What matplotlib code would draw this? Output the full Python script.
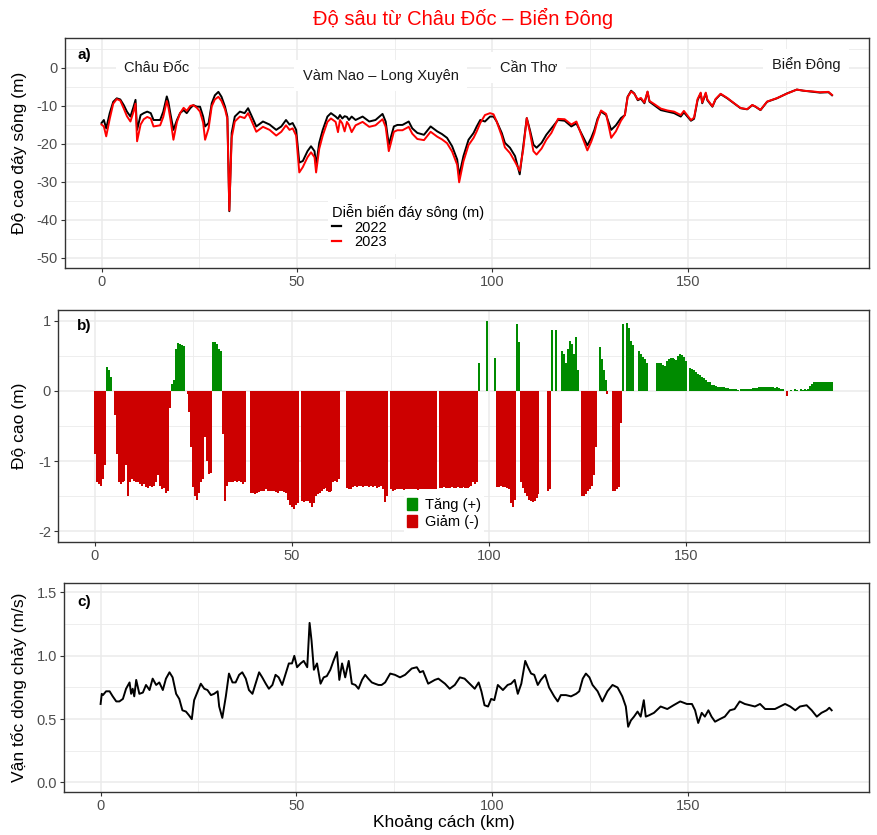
import matplotlib
matplotlib.use("Agg")
import matplotlib.pyplot as plt
from matplotlib.patches import Patch
from matplotlib.lines import Line2D
from matplotlib.ticker import MultipleLocator, FormatStrFormatter

plt.rcParams['font.family'] = ['Liberation Sans', 'DejaVu Sans']
plt.rcParams['axes.unicode_minus'] = False

# ---- panel a: river bed elevation (m) ----
km_a = [0.0, 0.6, 1.2, 2.1, 3.0, 3.9, 4.8, 5.7, 6.5, 7.4, 8.2, 8.7, 9.1, 10.0, 10.8,
        11.7, 12.6, 13.3, 15.0, 15.8, 16.7, 17.1, 17.6, 18.4, 19.3, 20.1, 21.0, 21.8,
        22.7, 23.5, 24.4, 25.2, 26.0, 26.5, 27.4, 28.2, 29.0, 29.9, 30.7, 31.6, 32.2,
        32.7, 33.3, 34.1, 35.4, 36.6, 37.5, 38.3, 39.6, 41.3, 43.0, 44.7, 46.0, 47.2,
        48.1, 48.9, 49.8, 50.6, 51.5, 52.7, 53.6, 54.5, 54.9, 55.7, 56.6, 57.8, 58.7,
        59.9, 60.5, 61.0, 61.6, 62.2, 62.8, 63.3, 64.0, 65.0, 66.8, 68.5, 70.1, 71.9,
        72.7, 73.5, 74.8, 75.7, 77.0, 78.6, 79.5, 80.8, 82.5, 84.2, 85.9, 87.1, 88.4,
        89.7, 91.0, 91.5, 92.6, 93.9, 95.2, 96.0, 96.9, 98.1, 99.4, 100.3, 101.1, 102.4,
        103.2, 104.5, 105.8, 107.0, 107.9, 108.8, 109.6, 110.5, 111.3, 112.6, 113.8,
        115.1, 116.8, 118.5, 120.2, 121.5, 122.7, 124.3, 125.3, 126.1, 126.9, 127.8,
        129.1, 130.4, 131.6, 132.9, 133.9, 134.6, 135.5, 136.3, 137.2, 138.0, 138.9,
        139.7, 140.2, 141.4, 143.1, 144.8, 146.5, 148.2, 149.0, 149.9, 150.8, 151.6,
        152.5, 153.3, 153.7, 154.6, 155.0, 156.3, 157.1, 158.4, 160.1, 161.8, 163.5,
        165.2, 166.5, 167.3, 168.6, 170.3, 172.8, 175.4, 177.9, 179.6, 182.1, 183.8,
        186.0, 186.9]
bed_2022 = [-14.6, -13.8, -16.0, -12.0, -9.0, -8.1, -8.4, -9.9, -11.6, -12.9, -10.3, -8.5,
            -16.4, -12.5, -12.0, -11.6, -12.0, -13.8, -13.8, -11.6, -7.6, -9.0, -12.0,
            -16.4, -13.8, -12.0, -11.2, -12.0, -10.7, -9.9, -10.3, -10.3, -12.9, -15.5,
            -14.6, -9.4, -7.3, -6.4, -7.7, -10.3, -12.9, -37.8, -17.2, -12.9, -11.6,
            -12.0, -10.7, -12.5, -15.5, -14.2, -15.0, -16.4, -15.5, -13.8, -15.0, -14.6,
            -16.4, -25.0, -24.6, -22.0, -20.7, -22.0, -25.9, -19.8, -16.4, -12.9, -12.0,
            -12.9, -13.5, -12.5, -13.4, -12.8, -13.0, -13.8, -12.9, -13.8, -12.9, -14.2,
            -13.8, -12.2, -14.2, -20.3, -15.5, -15.1, -15.1, -14.2, -16.0, -17.2, -17.7,
            -15.5, -16.8, -17.5, -18.5, -20.7, -24.2, -28.5, -23.3, -19.0, -17.2, -15.5,
            -13.8, -14.2, -12.9, -12.9, -14.2, -17.2, -19.8, -21.1, -23.3, -28.1, -20.7,
            -13.3, -16.4, -20.3, -21.1, -19.8, -17.7, -16.0, -13.8, -14.0, -15.5, -14.7,
            -17.2, -20.5, -18.5, -16.4, -13.5, -11.6, -12.5, -16.4, -15.2, -13.3, -12.5,
            -7.7, -6.1, -6.8, -8.6, -8.2, -9.4, -6.4, -9.0, -9.9, -11.2, -11.6, -12.0,
            -12.9, -11.8, -12.9, -14.0, -13.5, -8.6, -6.8, -9.4, -6.8, -8.6, -10.3, -8.4,
            -7.0, -8.1, -9.4, -10.7, -11.0, -9.9, -10.3, -11.2, -9.0, -8.1, -6.8, -5.8,
            -6.1, -6.4, -6.6, -6.5, -7.3]
bed_2023 = [-15.0, -15.5, -18.1, -13.5, -9.5, -8.3, -8.7, -10.8, -12.8, -14.2, -11.6, -9.5,
            -19.4, -15.0, -13.6, -13.0, -13.4, -15.5, -15.2, -13.0, -8.8, -10.4, -13.4,
            -19.0, -14.3, -12.0, -10.6, -11.4, -10.1, -9.9, -10.6, -11.6, -14.5, -19.0,
            -16.0, -10.2, -8.4, -7.7, -8.8, -11.0, -13.5, -37.6, -18.5, -14.2, -12.9,
            -13.3, -12.0, -13.8, -16.9, -15.6, -16.4, -17.9, -16.9, -15.2, -16.4, -16.0,
            -17.9, -27.6, -26.2, -23.6, -22.3, -23.6, -27.6, -21.4, -17.9, -14.3, -13.4,
            -14.3, -17.0, -13.8, -14.7, -16.8, -14.3, -15.1, -17.0, -15.2, -14.3, -15.6,
            -15.2, -13.6, -15.6, -22.0, -16.9, -16.5, -16.5, -15.6, -17.4, -18.8, -19.1,
            -16.9, -18.2, -18.9, -19.9, -22.1, -25.6, -30.2, -24.7, -20.4, -18.5, -16.8,
            -14.6, -12.5, -12.0, -12.3, -14.2, -18.0, -21.0, -22.5, -24.8, -27.2, -21.5,
            -13.3, -17.0, -22.0, -22.9, -21.3, -19.0, -17.2, -13.5, -13.6, -15.0, -14.2,
            -17.5, -21.8, -19.5, -17.2, -14.0, -11.3, -12.2, -18.5, -16.8, -14.0, -12.5,
            -7.8, -6.3, -6.9, -8.4, -8.0, -9.2, -6.3, -8.8, -9.6, -10.8, -11.3, -11.6,
            -12.5, -11.4, -12.6, -13.8, -13.2, -8.3, -6.6, -9.2, -6.6, -8.4, -10.2, -8.3,
            -6.9, -8.0, -9.35, -10.65, -10.95, -9.85, -10.25, -11.15, -8.95, -8.05, -6.85,
            -5.8, -6.1, -6.3, -6.5, -6.4, -7.2]

place_names = ['Châu Đốc', 'Vàm Nao – Long Xuyên', 'Cần Thơ', 'Biển Đông']
place_km = [14.2, 71.4, 109.3, 180.2]
place_depth = [0.0, -2.1, 0.0, 0.7]

# ---- panel b: bed change 2023 - 2022 (m), every 0.5 km ----
diff_km = [
    0, 0.5, 1, 1.5, 2, 2.5, 3, 3.5, 4, 4.5, 5, 5.5, 6, 6.5, 7, 7.5, 8, 8.5, 9, 9.5,
    10, 10.5, 11, 11.5, 12, 12.5, 13, 13.5, 14, 14.5, 15, 15.5, 16, 16.5, 17, 17.5, 18, 18.5, 19, 19.5,
    20, 20.5, 21, 21.5, 22, 22.5, 23, 23.5, 24, 24.5, 25, 25.5, 26, 26.5, 27, 27.5, 28, 28.5, 29, 29.5,
    30, 30.5, 31, 31.5, 32, 32.5, 33, 33.5, 34, 34.5, 35, 35.5, 36, 36.5, 37, 37.5, 38, 38.5, 39, 39.5,
    40, 40.5, 41, 41.5, 42, 42.5, 43, 43.5, 44, 44.5, 45, 45.5, 46, 46.5, 47, 47.5, 48, 48.5, 49, 49.5,
    50, 50.5, 51, 51.5, 52, 52.5, 53, 53.5, 54, 54.5, 55, 55.5, 56, 56.5, 57, 57.5, 58, 58.5, 59, 59.5,
    60, 60.5, 61, 61.5, 62, 62.5, 63, 63.5, 64, 64.5, 65, 65.5, 66, 66.5, 67, 67.5, 68, 68.5, 69, 69.5,
    70, 70.5, 71, 71.5, 72, 72.5, 73, 73.5, 74, 74.5, 75, 75.5, 76, 76.5, 77, 77.5, 78, 78.5, 79, 79.5,
    80, 80.5, 81, 81.5, 82, 82.5, 83, 83.5, 84, 84.5, 85, 85.5, 86, 86.5, 87, 87.5, 88, 88.5, 89, 89.5,
    90, 90.5, 91, 91.5, 92, 92.5, 93, 93.5, 94, 94.5, 95, 95.5, 96, 96.5, 97, 97.5, 98, 98.5, 99, 99.5,
    100, 100.5, 101, 101.5, 102, 102.5, 103, 103.5, 104, 104.5, 105, 105.5, 106, 106.5, 107, 107.5, 108, 108.5, 109, 109.5,
    110, 110.5, 111, 111.5, 112, 112.5, 113, 113.5, 114, 114.5, 115, 115.5, 116, 116.5, 117, 117.5, 118, 118.5, 119, 119.5,
    120, 120.5, 121, 121.5, 122, 122.5, 123, 123.5, 124, 124.5, 125, 125.5, 126, 126.5, 127, 127.5, 128, 128.5, 129, 129.5,
    130, 130.5, 131, 131.5, 132, 132.5, 133, 133.5, 134, 134.5, 135, 135.5, 136, 136.5, 137, 137.5, 138, 138.5, 139, 139.5,
    140, 140.5, 141, 141.5, 142, 142.5, 143, 143.5, 144, 144.5, 145, 145.5, 146, 146.5, 147, 147.5, 148, 148.5, 149, 149.5,
    150, 150.5, 151, 151.5, 152, 152.5, 153, 153.5, 154, 154.5, 155, 155.5, 156, 156.5, 157, 157.5, 158, 158.5, 159, 159.5,
    160, 160.5, 161, 161.5, 162, 162.5, 163, 163.5, 164, 164.5, 165, 165.5, 166, 166.5, 167, 167.5, 168, 168.5, 169, 169.5,
    170, 170.5, 171, 171.5, 172, 172.5, 173, 173.5, 174, 174.5, 175, 175.5, 176, 176.5, 177, 177.5, 178, 178.5, 179, 179.5,
    180, 180.5, 181, 181.5, 182, 182.5, 183, 183.5, 184, 184.5, 185, 185.5, 186, 186.5, 187]
diff_m = [
    -0.90, -1.30, -1.33, -1.35, -1.25, -1.05, 0.34, 0.30, 0.20, 0,
    -0.35, -0.90, -1.30, -1.32, -1.30, -1.28, -1.05, -1.50, -1.30, -1.25,
    -1.28, -1.30, -1.30, -1.32, -1.35, -1.33, -1.37, -1.38, -1.36, -1.37,
    -1.35, -1.30, -1.20, -1.35, -1.40, -1.38, -1.45, -1.42, -0.25, 0.10,
    0.15, 0.60, 0.68, 0.67, 0.65, 0.64, 0, -0.05, -0.30, -0.80,
    -1.37, -1.50, -1.55, -1.45, -1.30, -1.25, -0.65, -1.00, -1.18, -1.17,
    0.70, 0.70, 0.66, 0.60, 0.57, -0.62, -1.57, -1.35, -1.30, -1.30,
    -1.30, -1.28, -1.30, -1.28, -1.30, -1.32, -1.30, 0, 0, -1.45,
    -1.45, -1.47, -1.45, -1.44, -1.42, -1.43, -1.42, -1.40, -1.43, -1.42,
    -1.42, -1.43, -1.44, -1.45, -1.43, -1.42, -1.44, -1.45, -1.55, -1.62,
    -1.65, -1.68, -1.63, -1.60, 0, -1.57, -1.58, -1.56, -1.57, -1.60,
    -1.65, -1.60, -1.50, -1.47, -1.45, -1.42, -1.40, -1.38, -1.42, -1.44,
    -1.42, -1.30, -1.28, -1.30, -1.25, 0, 0, 0, -1.38, -1.40,
    -1.40, -1.37, -1.36, -1.37, -1.35, -1.36, -1.37, -1.35, -1.36, -1.37,
    -1.36, -1.37, -1.36, -1.38, -1.37, -1.36, -1.40, -1.58, -1.50, 0,
    -1.40, -1.42, -1.41, -1.40, -1.40, -1.39, -1.40, -1.41, -1.40, -1.40,
    -1.40, -1.39, -1.40, -1.40, -1.41, -1.40, -1.39, -1.40, -1.40, -1.40,
    -1.40, -1.39, -1.40, -1.39, 0, -1.38, -1.38, -1.37, -1.38, -1.38,
    -1.38, -1.37, -1.38, -1.38, -1.37, -1.38, -1.38, -1.37, -1.38, -1.38,
    -1.37, -1.36, -1.30, -1.33, -1.30, 0.40, 0, 0, 0, 1.00,
    0, 0, 0, 0.47, -1.37, -1.37, -1.36, -1.37, -1.37, -1.38,
    -1.40, -1.60, -1.65, -1.55, 0.95, 0.70, -1.30, -1.38, -1.45, -1.50,
    -1.55, -1.57, -1.58, -1.57, -1.53, -1.47, 0, 0, 0, 0,
    -1.42, -1.40, 0.87, 0, 0.87, 0, 0, 0.57, 0.52, 0.40,
    0.60, 0.71, 0.66, 0.52, 0.76, 0.30, 0, -1.50, -1.50, -1.47,
    -1.43, -1.40, -1.35, -1.20, -0.80, 0, 0.62, 0.45, 0.30, 0.15,
    -0.05, 0, 0, -1.42, -1.42, -1.40, -1.37, -0.45, 0.95, 0,
    0.97, 0.90, 0.71, 0.65, 0, 0, 0.57, 0.52, 0.48, 0.45,
    0.40, 0, 0, 0, 0, 0.40, 0.40, 0.39, 0.37, 0.36,
    0.42, 0.46, 0.47, 0.47, 0.46, 0.44, 0.50, 0.52, 0.51, 0.48,
    0.42, 0, 0.33, 0.31, 0.29, 0.27, 0.24, 0.22, 0.20, 0.18,
    0.16, 0.13, 0.12, 0.08, 0.08, 0.07, 0.06, 0.06, 0.05, 0.05,
    0.04, 0.04, 0.03, 0.03, 0.03, 0.02, 0.01, 0, 0.02, 0.02,
    0.02, 0.03, 0.03, 0.03, 0.04, 0.04, 0.04, 0.05, 0.05, 0.05,
    0.05, 0.05, 0.05, 0.05, 0.05, 0.04, 0.05, 0.04, 0.03, 0.02,
    0, -0.08, 0, 0.01, 0, 0.02, 0.01, 0, 0.02, 0.01,
    0.02, 0.01, 0.02, 0.07, 0.10, 0.12, 0.12, 0.13, 0.13, 0.12,
    0.12, 0.13, 0.12, 0.12, 0.12]

# ---- panel c: flow velocity (m/s) ----
km_c = [0.0, 0.3, 0.6, 1.4, 2.3, 3.1, 4.0, 4.8, 5.7, 6.5, 7.4, 7.8, 8.2, 8.6, 9.1, 9.9,
        10.8, 11.6, 12.5, 13.3, 14.2, 15.0, 15.9, 16.7, 17.6, 18.4, 19.3, 20.1, 20.9,
        21.8, 22.6, 23.3, 23.9, 24.8, 25.6, 26.5, 27.3, 28.2, 29.0, 29.9, 30.3, 31.1,
        32.0, 32.8, 33.7, 34.5, 35.4, 36.2, 37.1, 37.9, 38.8, 39.6, 40.5, 41.3, 42.2,
        43.0, 43.9, 44.7, 45.5, 46.4, 47.2, 48.1, 48.9, 49.5, 50.2, 51.1, 51.9, 52.8,
        53.4, 53.9, 54.5, 55.3, 56.2, 57.0, 57.8, 58.7, 59.5, 60.4, 61.0, 61.7, 62.5,
        63.4, 64.2, 65.1, 65.9, 66.8, 67.6, 68.4, 69.3, 70.1, 71.0, 71.8, 72.7, 74.0,
        75.2, 76.5, 77.8, 79.5, 80.8, 81.6, 82.4, 83.7, 85.4, 86.3, 88.0, 89.2, 90.5,
        91.8, 93.0, 94.3, 95.6, 96.6, 97.3, 98.1, 99.0, 99.8, 100.6, 101.5, 102.8,
        104.0, 104.9, 105.8, 106.6, 107.5, 108.5, 109.2, 110.0, 110.8, 111.7, 112.5,
        113.6, 114.6, 115.9, 116.8, 117.6, 118.9, 120.2, 121.5, 122.3, 123.2, 124.0,
        124.9, 125.7, 127.0, 128.2, 129.5, 130.8, 132.1, 133.3, 134.2, 134.8, 135.5,
        136.3, 137.2, 138.0, 138.8, 139.3, 140.1, 141.4, 143.1, 144.8, 146.4, 148.1,
        149.8, 151.1, 151.9, 152.7, 153.6, 154.4, 155.3, 156.1, 157.0, 158.2, 159.5,
        160.8, 162.0, 163.3, 164.6, 165.9, 167.2, 168.5, 169.8, 171.1, 172.3, 173.6,
        174.9, 176.2, 177.5, 178.7, 180.4, 181.7, 183.0, 184.2, 185.5, 186.2, 186.8]
velocity = [0.62, 0.70, 0.69, 0.72, 0.72, 0.68, 0.64, 0.64, 0.66, 0.74, 0.79, 0.70, 0.74,
            0.68, 0.81, 0.70, 0.71, 0.77, 0.73, 0.82, 0.77, 0.79, 0.73, 0.82, 0.87, 0.83,
            0.70, 0.66, 0.57, 0.56, 0.53, 0.50, 0.65, 0.72, 0.78, 0.74, 0.73, 0.69, 0.70,
            0.72, 0.60, 0.51, 0.68, 0.86, 0.79, 0.79, 0.85, 0.87, 0.82, 0.73, 0.70, 0.78,
            0.87, 0.83, 0.78, 0.74, 0.77, 0.85, 0.83, 0.77, 0.85, 0.94, 0.94, 1.00, 0.91,
            0.94, 0.96, 0.91, 1.26, 1.12, 0.89, 0.94, 0.78, 0.83, 0.84, 0.89, 0.96, 1.03,
            0.81, 0.94, 0.83, 0.96, 0.78, 0.77, 0.74, 0.81, 0.85, 0.82, 0.79, 0.78, 0.77,
            0.77, 0.79, 0.86, 0.85, 0.83, 0.85, 0.90, 0.91, 0.87, 0.88, 0.78, 0.81, 0.82,
            0.78, 0.74, 0.77, 0.83, 0.82, 0.78, 0.74, 0.79, 0.72, 0.61, 0.60, 0.66, 0.65,
            0.77, 0.73, 0.77, 0.78, 0.81, 0.70, 0.78, 0.96, 0.91, 0.86, 0.85, 0.77, 0.81,
            0.85, 0.75, 0.68, 0.64, 0.69, 0.69, 0.68, 0.70, 0.72, 0.82, 0.86, 0.83, 0.77,
            0.72, 0.64, 0.72, 0.77, 0.75, 0.68, 0.60, 0.44, 0.49, 0.52, 0.56, 0.52, 0.65,
            0.52, 0.53, 0.55, 0.60, 0.58, 0.61, 0.64, 0.62, 0.62, 0.57, 0.47, 0.55, 0.52,
            0.57, 0.52, 0.48, 0.50, 0.52, 0.57, 0.58, 0.64, 0.62, 0.61, 0.60, 0.62, 0.58,
            0.58, 0.58, 0.60, 0.62, 0.60, 0.57, 0.60, 0.61, 0.57, 0.52, 0.55, 0.57, 0.59,
            0.57]

GREEN = '#008B00'
RED = '#CD0000'
GRID = '#EBEBEB'
FRAME = '#333333'


def style_axes(ax, ymajor, yminor, ylim):
    ax.set_xlim(-9.35, 196.35)
    ax.set_ylim(*ylim)
    ax.xaxis.set_major_locator(MultipleLocator(50))
    ax.xaxis.set_minor_locator(MultipleLocator(25))
    ax.yaxis.set_major_locator(MultipleLocator(ymajor))
    ax.yaxis.set_minor_locator(MultipleLocator(yminor))
    ax.grid(which='major', color=GRID, lw=1.1)
    ax.grid(which='minor', color=GRID, lw=0.6)
    ax.set_axisbelow(True)
    for s in ax.spines.values():
        s.set_color(FRAME)
        s.set_linewidth(1.0)
    ax.tick_params(which='major', length=3, width=0.8, color=FRAME,
                   labelsize=10.5, labelcolor='#4D4D4D', pad=2)
    ax.tick_params(which='minor', length=0)


fig = plt.figure(figsize=(8.78, 8.35), dpi=100)
ax_a = fig.add_axes([0.0740, 0.6790, 0.9157, 0.2754])
ax_b = fig.add_axes([0.0661, 0.3509, 0.9237, 0.2778])
ax_c = fig.add_axes([0.0729, 0.0515, 0.9169, 0.2503])

# panel a
style_axes(ax_a, 10, 5, (-52.75, 7.75))
ax_a.plot(km_a, bed_2022, color='black', lw=1.4, label='2022')
ax_a.plot(km_a, bed_2023, color='red', lw=1.4, label='2023')
for name, x, y in zip(place_names, place_km, place_depth):
    ax_a.text(x, y, name, ha='center', va='center', fontsize=10.5, color='#1A1A1A',
              bbox=dict(boxstyle='square,pad=0.6', fc='white', ec='none'))
ax_a.text(0.016, 0.925, 'a)', transform=ax_a.transAxes, fontsize=11,
          fontweight='bold', va='center')
ax_a.set_ylabel('Độ cao đáy sông (m)', fontsize=12.5)
ax_a.yaxis.set_label_coords(-0.047, 0.5)
leg_a = ax_a.legend(handles=[Line2D([], [], color='black', lw=1.6),
                             Line2D([], [], color='red', lw=1.6)],
                    labels=['2022', '2023'], title='Diễn biến đáy sông (m)',
                    loc='upper left', bbox_to_anchor=(0.318, 0.33),
                    fontsize=10.5, title_fontsize=10.5, handlelength=0.6,
                    handletextpad=0.9, labelspacing=0.05, borderpad=0.3,
                    frameon=True, facecolor='white', edgecolor='none',
                    framealpha=1, fancybox=False)
leg_a._legend_box.align = 'left'

# panel b
style_axes(ax_b, 1, 0.5, (-2.15, 1.15))
bar_colors = [GREEN if v > 0 else RED for v in diff_m]
ax_b.bar(diff_km, diff_m, width=0.52, color=bar_colors, linewidth=0)
ax_b.text(0.023, 0.93, 'b)', transform=ax_b.transAxes, fontsize=11,
          fontweight='bold', va='center')
ax_b.set_ylabel('Độ cao (m)', fontsize=12.5)
ax_b.yaxis.set_label_coords(-0.038, 0.5)
ax_b.legend(handles=[Patch(color=GREEN), Patch(color=RED)],
            labels=['Tăng (+)', 'Giảm (-)'], loc='upper left',
            bbox_to_anchor=(0.418, 0.232), fontsize=10.5, handlelength=0.7,
            handleheight=0.9, handletextpad=0.5, labelspacing=0.15,
            borderpad=0.2, frameon=True, facecolor='white', edgecolor='none',
            framealpha=1, fancybox=False)

# panel c
style_axes(ax_c, 0.5, 0.25, (-0.075, 1.575))
ax_c.yaxis.set_major_formatter(FormatStrFormatter('%.1f'))
ax_c.plot(km_c, velocity, color='black', lw=1.4)
ax_c.text(0.016, 0.91, 'c)', transform=ax_c.transAxes, fontsize=11,
          fontweight='bold', va='center')
ax_c.set_ylabel('Vận tốc dòng chảy (m/s)', fontsize=12.5)
ax_c.yaxis.set_label_coords(-0.046, 0.5)

fig.text(444 / 878, 1 - 823 / 835, 'Khoảng cách (km)', ha='center', va='center',
         fontsize=12.5)
fig.text(463 / 878, 1 - 18 / 835, 'Độ sâu từ Châu Đốc – Biển Đông', ha='center',
         va='center', fontsize=14.5, color='red')

fig.savefig('out.png', dpi=100)
